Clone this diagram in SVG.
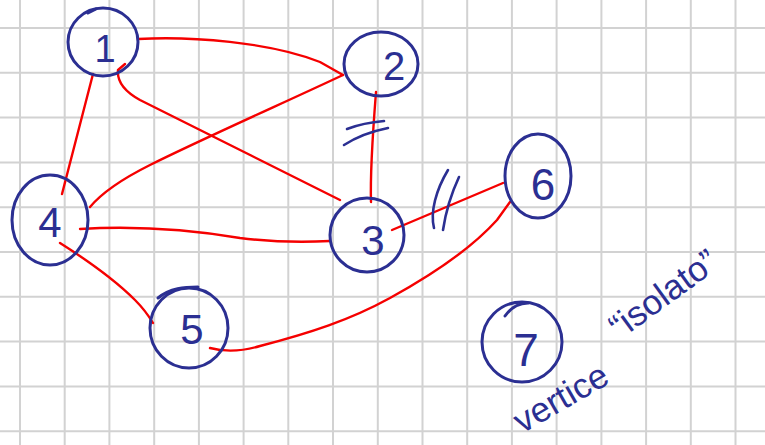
<svg xmlns="http://www.w3.org/2000/svg" width="765" height="445" viewBox="0 0 765 445">
<style>
.grid{stroke:#d2d2d2;stroke-width:2;fill:none}
.node{fill:none;stroke:#2b2f92;stroke-width:3;stroke-linecap:round}
.lbl{font-family:"Liberation Sans",Arial,sans-serif;fill:#2b2f92;text-anchor:middle;font-weight:normal}
.edge{fill:none;stroke:#f50000;stroke-width:2.4;stroke-linecap:round;stroke-linejoin:round}
.mark{fill:none;stroke:#2b2f92;stroke-width:2.6;stroke-linecap:round}
.note{font-family:"Liberation Sans",Arial,sans-serif;fill:#2b2f92}
</style>
<rect width="765" height="445" fill="#fff"/>
<g id="grid">
<path class="grid" d="M20 0V445M64.7 0V445M109.4 0V445M154.2 0V445M198.9 0V445M243.6 0V445M288.3 0V445M333 0V445M377.8 0V445M422.5 0V445M467.2 0V445M511.9 0V445M556.6 0V445M601.4 0V445M646.1 0V445M690.8 0V445M735.5 0V445"/>
<path class="grid" d="M0 28H765M0 72.8H765M0 117.6H765M0 162.4H765M0 207.2H765M0 252H765M0 296.8H765M0 341.6H765M0 386.4H765M0 431.2H765"/>
</g>
<g id="connectors">
<path class="edge" d="M138 39 C190 36 270 42 320 62 L343 75"/>
<path class="edge" d="M125 64 L118 70 C117 80 122 90 140 100 C190 125 270 165 330 195 L340 200"/>
<path class="edge" d="M93 74 L62 194"/>
<path class="edge" d="M343 75 C290 100 200 140 150 165 C120 180 100 195 90 207"/>
<path class="edge" d="M376 92 C373 130 370 170 371 202"/>
<path class="edge" d="M80 229 C130 226 180 228 240 238 C280 243 310 242 330 241"/>
<path class="edge" d="M60 243 C90 262 115 280 135 300 C145 310 150 318 153 323"/>
<path class="edge" d="M210 348 C225 352 240 352 260 346 C310 333 350 320 390 298 C430 276 470 250 497 220 L510 202"/>
<path class="edge" d="M392 230 L503 183"/>
</g>
<g id="marks">
<path class="mark" d="M347 129 C360 124 372 122 384 121"/>
<path class="mark" d="M344 145 C358 136 373 131 388 128"/>
<path class="mark" d="M434 228 C430 212 436 190 448 170"/>
<path class="mark" d="M443 230 C446 210 452 192 459 177"/>
</g>
<g id="n1"><ellipse class="node" cx="103" cy="42" rx="35" ry="34"/><path class="node" d="M88 13 L96 9"/><text class="lbl" x="105" y="62" font-size="38">1</text></g>
<g id="n2"><ellipse class="node" cx="381" cy="64" rx="37" ry="32"/><text class="lbl" x="394" y="80" font-size="40">2</text></g>
<g id="n3"><ellipse class="node" cx="367" cy="235" rx="37" ry="37"/><text class="lbl" x="373" y="255" font-size="42">3</text></g>
<g id="n4"><ellipse class="node" cx="50" cy="220" rx="38" ry="45"/><text class="lbl" x="50" y="237" font-size="42">4</text></g>
<g id="n5"><ellipse class="node" cx="189" cy="328" rx="39" ry="40"/><path class="node" d="M158 298 C170 288 185 287 198 287"/><text class="lbl" x="192" y="344" font-size="42">5</text></g>
<g id="n6"><ellipse class="node" cx="538" cy="176" rx="33" ry="42"/><text class="lbl" x="543" y="200" font-size="44">6</text></g>
<g id="n7"><ellipse class="node" cx="522" cy="342" rx="40" ry="40"/><path class="node" d="M505 316 C512 306 520 303 528 303"/><text class="lbl" x="526" y="366" font-size="46">7</text></g>
<g id="note">
<text class="note" font-size="35" transform="translate(522 434) rotate(-30)">vertice</text>
<text class="note" font-size="35" transform="translate(620 340) rotate(-36)">“isolato”</text>
</g>
</svg>
